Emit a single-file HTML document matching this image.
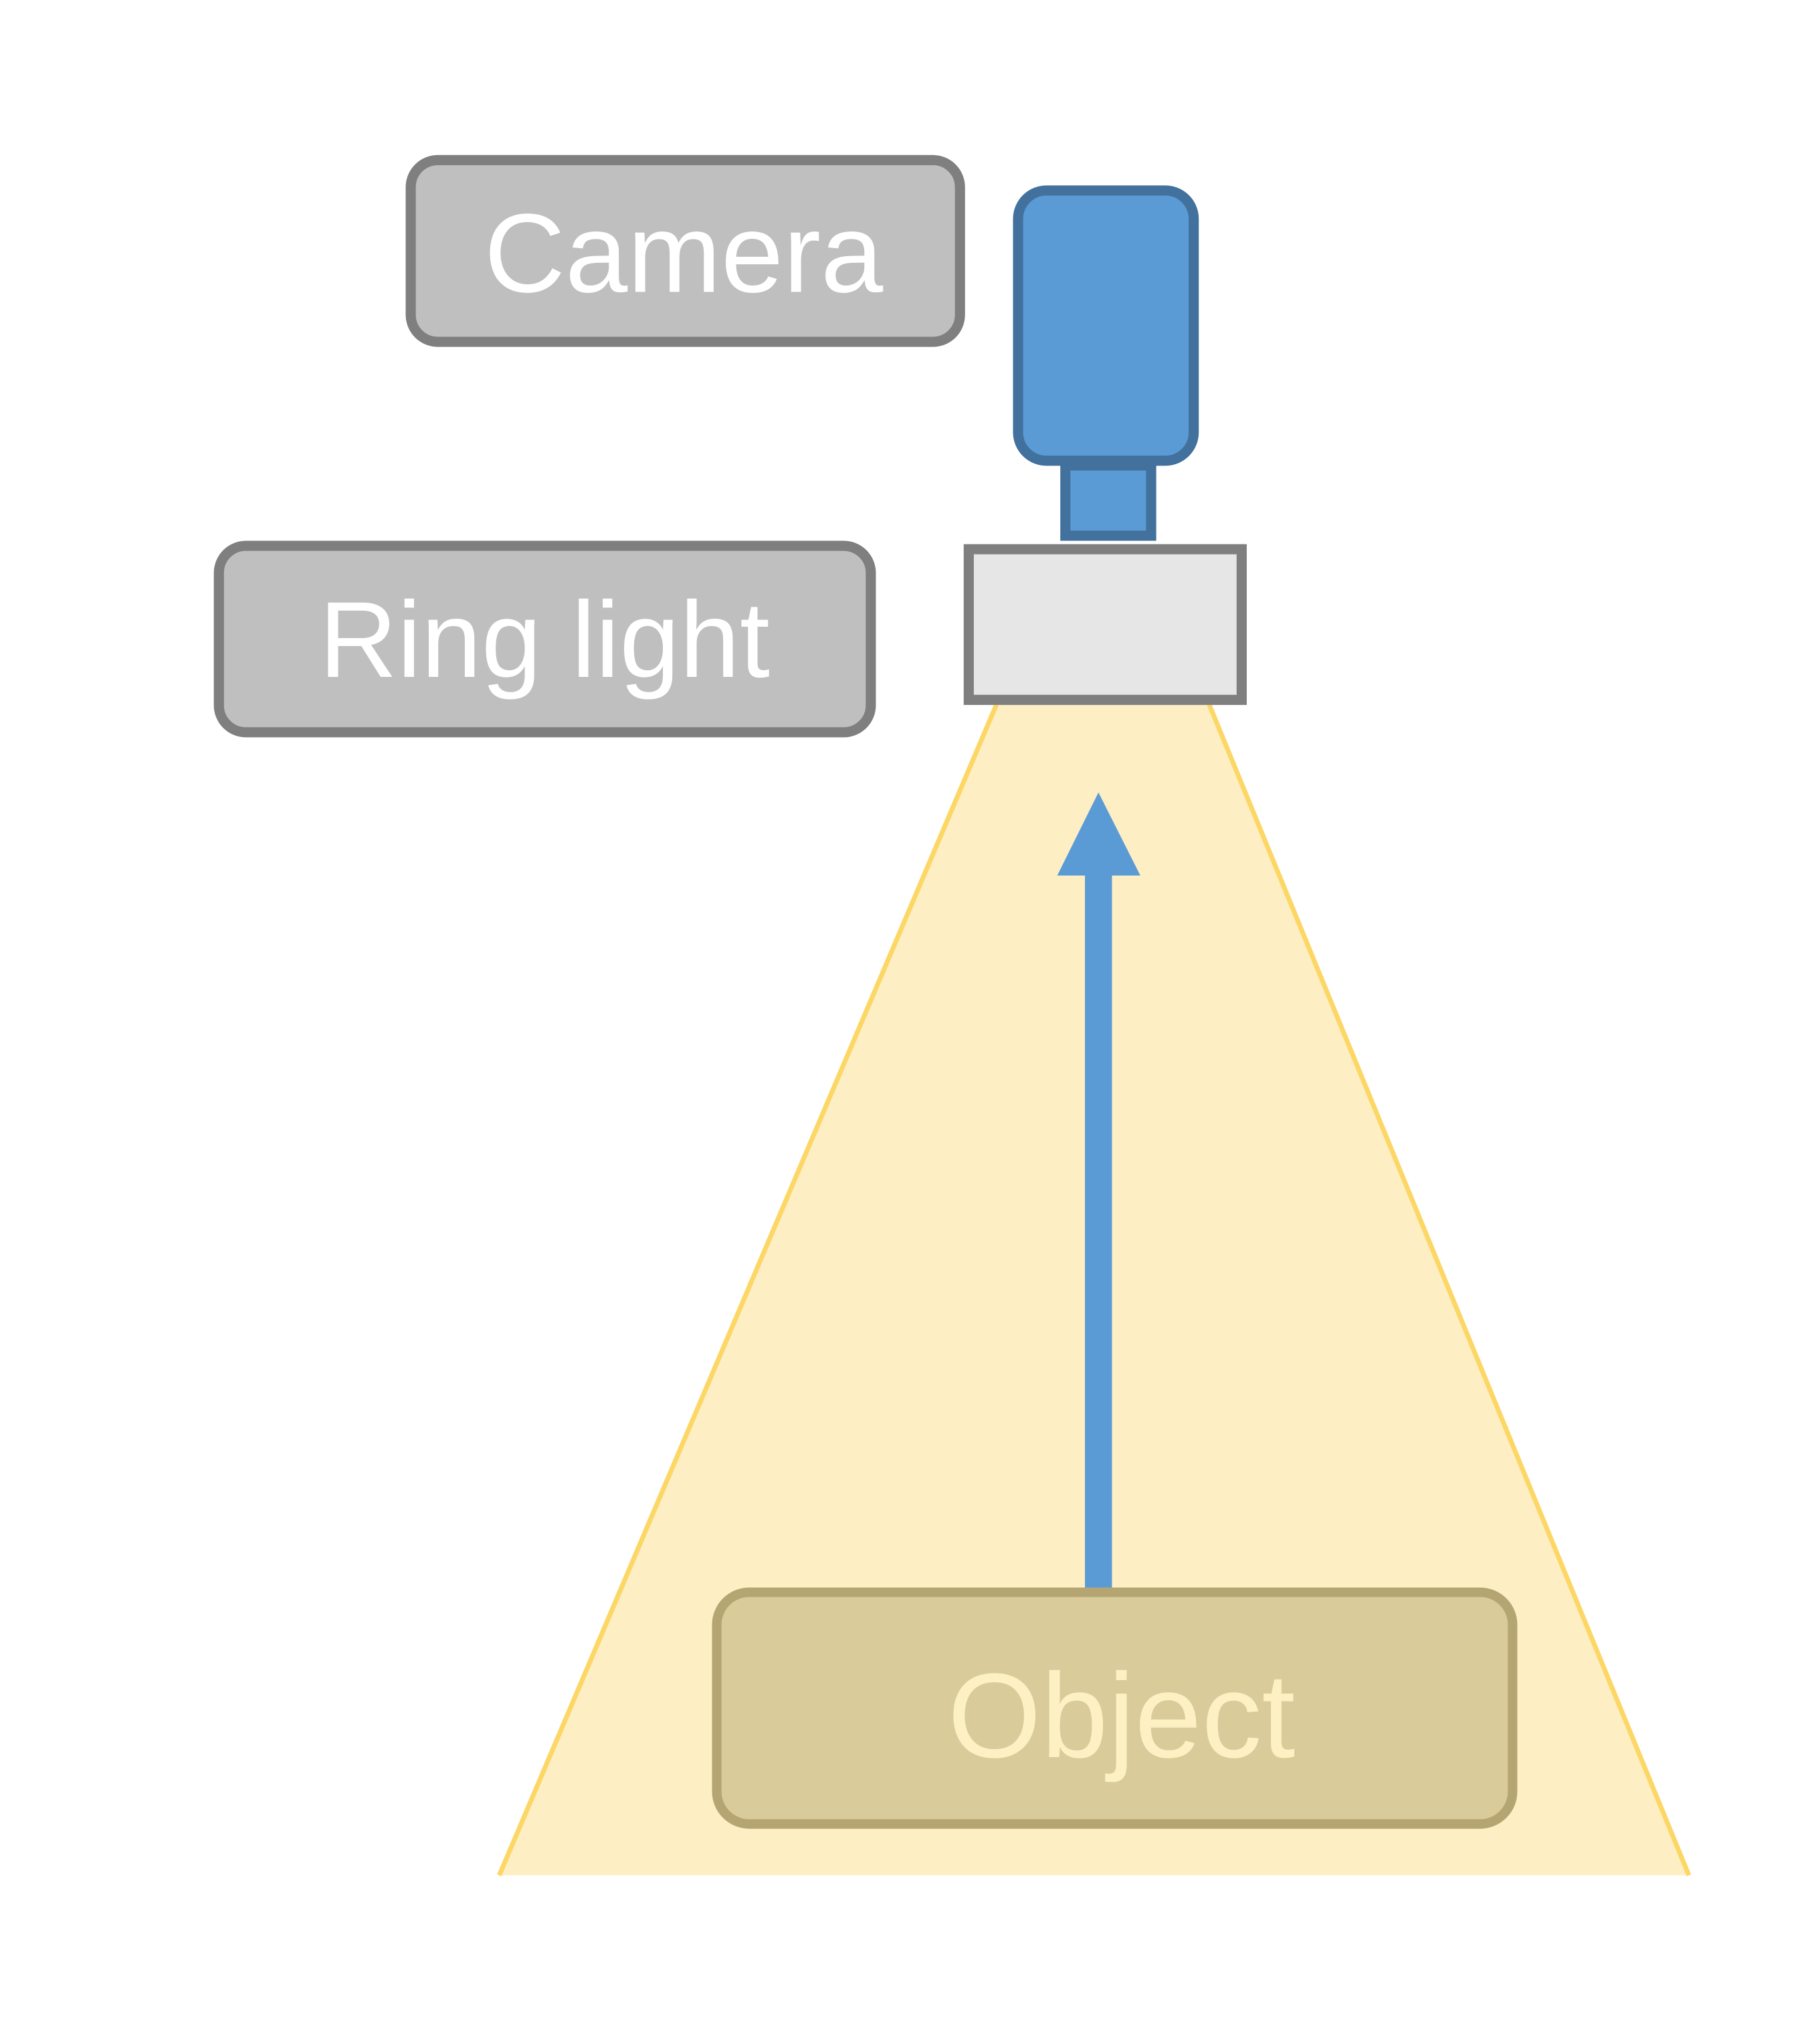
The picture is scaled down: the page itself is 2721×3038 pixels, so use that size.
<!DOCTYPE html>
<html><head><style>html,body{margin:0;padding:0;background:#fff}</style></head>
<body>
<svg width="2721" height="3038" viewBox="0 0 2721 3038" xmlns="http://www.w3.org/2000/svg" style="display:block">
<g transform="scale(1.01)">
<polygon points="1475,1043 1790,1043 2500,2776 739,2776" fill="#fdeec3"/>
<line x1="1475" y1="1043" x2="739" y2="2776" stroke="#fcd766" stroke-width="7"/>
<line x1="1790" y1="1043" x2="2500" y2="2776" stroke="#fcd766" stroke-width="7"/>
<rect x="608" y="237" width="813" height="269" rx="40" fill="#bfbfbf" stroke="#7f7f7f" stroke-width="15"/>
<text x="1012" y="432" font-family="Liberation Sans, sans-serif" font-size="166" fill="#fff" text-anchor="middle">Camera</text>
<rect x="324" y="808" width="965" height="276" rx="40" fill="#bfbfbf" stroke="#7f7f7f" stroke-width="15"/>
<text x="806" y="1002" font-family="Liberation Sans, sans-serif" font-size="160" fill="#fff" text-anchor="middle">Ring light</text>
<rect x="1577" y="689" width="127" height="104" fill="#5b9bd5" stroke="#41719c" stroke-width="15"/>
<rect x="1507" y="282" width="260" height="400" rx="42" fill="#5b9bd5" stroke="#41719c" stroke-width="15"/>
<rect x="1434" y="813" width="404" height="223" fill="#e6e6e6" stroke="#7f7f7f" stroke-width="15"/>
<rect x="1606" y="1290" width="40" height="1064" fill="#5b9bd5"/>
<polygon points="1626,1173 1688,1296 1565,1296" fill="#5b9bd5"/>
<rect x="1061" y="2357" width="1178" height="343" rx="48" fill="#d9cb9a" stroke="#b5a572" stroke-width="14"/>
<text x="1660" y="2601" font-family="Liberation Sans, sans-serif" font-size="178" fill="#fdf0c3" text-anchor="middle">Object</text>
</g>
</svg>
</body></html>
